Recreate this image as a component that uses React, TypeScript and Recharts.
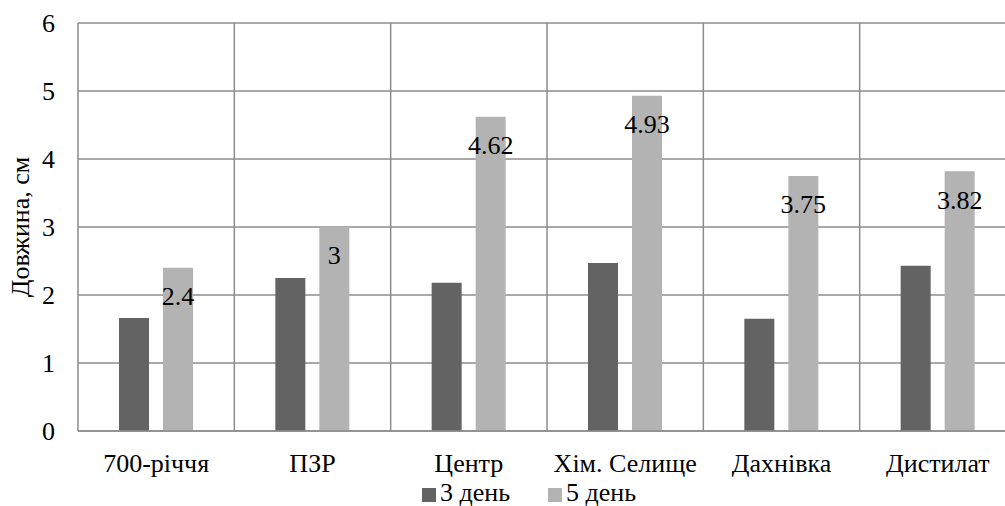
import { BarChart, Bar, XAxis, YAxis, CartesianGrid, Legend, LabelList, Label } from 'recharts';

// Довжина проростків за 3-й та 5-й день по пробах

const sites = ['700-річчя', 'ПЗР', 'Центр', 'Хім. Селище', 'Дахнівка', 'Дистилат'];
const day3 = [1.66, 2.25, 2.18, 2.47, 1.65, 2.43];
const day5 = [2.4, 3, 4.62, 4.93, 3.75, 3.82];
const yTicks = [0, 1, 2, 3, 4, 5, 6];

const data = sites.map((name, i) => ({ name, d3: day3[i], d5: day5[i] }));

const font = 'Liberation Serif, Times New Roman, serif';
const fontSize = 26;
const gridColor = '#8c8c8c';

function LegendContent({ payload }: { payload?: any[] }) {
  return (
    <div style={{ display: 'flex', fontFamily: font, fontSize, color: '#000', lineHeight: '26px', height: 26 }}>
      {(payload || []).map((p, i) => (
        <div key={i} style={{ display: 'flex', alignItems: 'center', marginRight: i === 0 ? 38 : 0 }}>
          <span style={{ display: 'inline-block', width: 14, height: 14, background: p.color, marginRight: 4, marginTop: 4 }} />
          <span>{p.value}</span>
        </div>
      ))}
    </div>
  );
}

export default function App() {
  return (
    <div style={{ position: 'absolute', left: 0, top: 0, width: 1005, height: 506, overflow: 'hidden', background: '#fff', fontFamily: font }}>
      <BarChart
        width={1030}
        height={506}
        data={data}
        margin={{ top: 23, right: 14, left: 0, bottom: 0 }}
        barSize={30}
        barGap={14}
      >
        <CartesianGrid
          stroke={gridColor}
          strokeWidth={1.5}
          verticalCoordinatesGenerator={({ offset }: any) =>
            sites.map((_, i) => offset.left + (i * offset.width) / sites.length).concat(offset.left + offset.width)
          }
        />
        <XAxis
          dataKey="name"
          height={49}
          axisLine={{ stroke: gridColor, strokeWidth: 1.5 }}
          tickLine={false}
          tickSize={0}
          tickMargin={23}
          tick={{ fill: '#000', fontSize, fontFamily: font }}
          interval={0}
        />
        <YAxis
          domain={[0, 6]}
          ticks={yTicks}
          width={78}
          axisLine={false}
          tickLine={false}
          tickSize={0}
          tickMargin={23}
          tick={{ fill: '#000', fontSize, fontFamily: font }}
        >
          <Label
            value="Довжина, см"
            angle={-90}
            position="insideLeft"
            offset={20}
            style={{ textAnchor: 'middle', fill: '#000', fontSize, fontFamily: font }}
          />
        </YAxis>
        <Legend
          verticalAlign="bottom"
          align="left"
          height={26}
          wrapperStyle={{ left: 422, width: 'auto' }}
          content={<LegendContent />}
        />
        <Bar dataKey="d3" name="3 день" fill="#636363" isAnimationActive={false} />
        <Bar dataKey="d5" name="5 день" fill="#b3b3b3" isAnimationActive={false}>
          <LabelList
            dataKey="d5"
            position="insideTop"
            offset={19}
            style={{ fill: '#000', fontSize, fontFamily: font }}
          />
        </Bar>
      </BarChart>
    </div>
  );
}
